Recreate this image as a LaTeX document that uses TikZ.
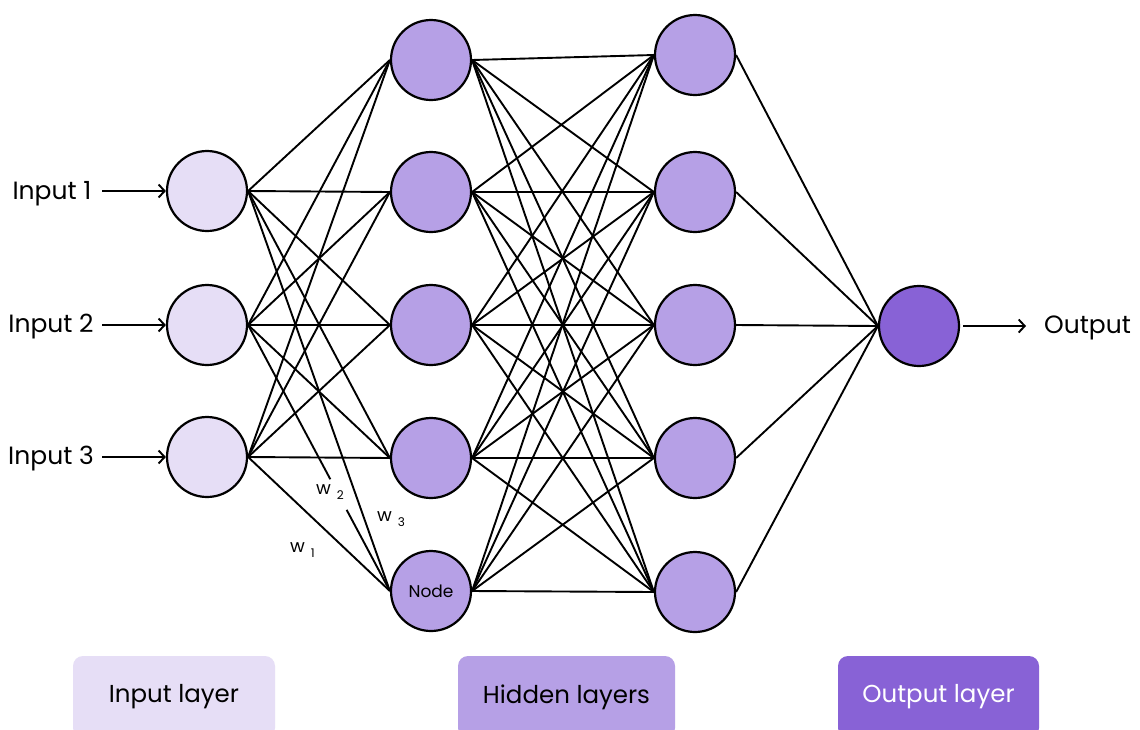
\documentclass[tikz,border=0pt]{standalone}
\usepackage{fontspec}
\setmainfont{Poppins}
\usetikzlibrary{arrows.meta,calc}
\definecolor{cin}{HTML}{E6DEF6}
\definecolor{chid}{HTML}{B6A0E6}
\definecolor{cout}{HTML}{8862D6}
\begin{document}
\begin{tikzpicture}[x=1pt,y=-1pt,
  neuron/.style={circle, draw=black, line width=2.2pt, minimum size=80pt, inner sep=0pt},
  edge/.style={draw=black, line width=1.9pt},
  arr/.style={draw=black, line width=1.9pt, -{Straight Barb[length=6pt,width=13pt,line width=1.9pt]}},
  lab/.style={font=\fontsize{25}{29}\selectfont, inner sep=0pt},
  wlab/.style={font=\fontsize{18}{21}\selectfont, inner sep=0pt, anchor=base west},
  legend/.style={rounded corners=10pt, minimum height=82pt, inner sep=0pt, font=\fontsize{24.5}{28}\selectfont}]
\clip (0,0) rectangle (1140,729);
\fill[white] (0,0) rectangle (1140,729);
% input layer
\node[neuron, fill=cin] (i1) at (207,191) {};
\node[neuron, fill=cin] (i2) at (207,325) {};
\node[neuron, fill=cin] (i3) at (207,457) {};
% hidden layer 1
\node[neuron, fill=chid] (h1) at (431,60) {};
\node[neuron, fill=chid] (h2) at (431,192) {};
\node[neuron, fill=chid] (h3) at (431,325) {};
\node[neuron, fill=chid] (h4) at (431,458) {};
\node[neuron, fill=chid, font=\fontsize{17}{20}\selectfont] (h5) at (431,591) {Node};
% hidden layer 2
\node[neuron, fill=chid] (g1) at (695,55) {};
\node[neuron, fill=chid] (g2) at (695,192) {};
\node[neuron, fill=chid] (g3) at (695,325) {};
\node[neuron, fill=chid] (g4) at (695,458) {};
\node[neuron, fill=chid] (g5) at (695,592) {};
% output
\node[neuron, fill=cout] (o) at (919,326) {};
% edges input -> hidden1
\foreach \a/\b in {1/1,1/2,1/3,1/4,1/5,2/1,2/2,2/3,2/4,3/1,3/2,3/3,3/4,3/5}
  \draw[edge] (i\a.east) -- (h\b.west);
\draw[edge] (i2.east) -- ($(i2.east)!0.58!(h5.west)$);
\draw[edge] ($(i2.east)!0.695!(h5.west)$) -- (h5.west);
% edges hidden1 -> hidden2
\foreach \a in {1,...,5}
  \foreach \b in {1,...,5}
    \draw[edge] (h\a.east) -- (g\b.west);
% edges hidden2 -> output
\foreach \a in {1,...,5}
  \draw[edge] (g\a.east) -- (o.west);
% weight labels
\node[wlab] (w2) at (316,494) {w\hspace{6pt}\raisebox{-5pt}{\fontsize{12}{14}\selectfont 2}};
\node[wlab] (w3) at (377,521) {w\hspace{6pt}\raisebox{-5pt}{\fontsize{12}{14}\selectfont 3}};
\node[wlab] (w1) at (290,552) {w\hspace{6pt}\raisebox{-5pt}{\fontsize{12}{14}\selectfont 1}};
% input labels and arrows
\node[lab] (l1) at (52,194) {Input 1};
\node[lab] (l2) at (51,327) {Input 2};
\node[lab] (l3) at (51,459) {Input 3};
\coordinate (s1) at (102,191);
\coordinate (s2) at (102,325);
\coordinate (s3) at (102,457);
\draw[arr] (s1) -- (i1.west);
\draw[arr] (s2) -- (i2.west);
\draw[arr] (s3) -- (i3.west);
% output arrow and label
\coordinate (oe) at (1026,326);
\draw[arr, shorten <=3pt] (o.east) -- (oe);
\node[lab, anchor=west] (lo) at (1044,328) {Output};
% legend
\node[legend, fill=cin, minimum width=202pt] (k1) at (174,697) {Input layer};
\node[legend, fill=chid, minimum width=217pt] (k2) at (566.5,697) {Hidden layers};
\node[legend, fill=cout, minimum width=201pt, text=white] (k3) at (938.5,697) {Output layer};
\end{tikzpicture}
\end{document}
